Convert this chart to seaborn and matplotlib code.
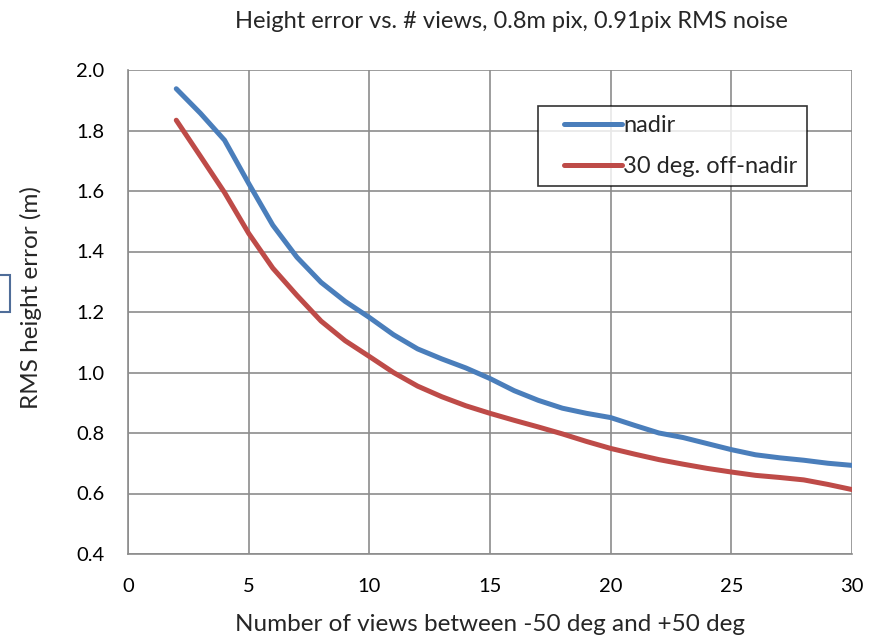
import numpy as np
import pandas as pd
import seaborn as sns
import matplotlib.pyplot as plt
from matplotlib.patches import Rectangle
from matplotlib.legend_handler import HandlerLine2D

# values
views = [2, 3, 4, 5, 6, 7, 8, 9, 10, 11, 12, 13, 14, 15, 16, 17, 18, 19, 20,
         21, 22, 23, 24, 25, 26, 27, 28, 29, 30]
nadir = [1.938, 1.857, 1.768, 1.625, 1.487, 1.381, 1.298, 1.235, 1.182, 1.125,
         1.078, 1.045, 1.015, 0.980, 0.940, 0.908, 0.882, 0.865, 0.851, 0.825,
         0.800, 0.785, 0.765, 0.745, 0.728, 0.718, 0.710, 0.700, 0.693]
off_nadir = [1.834, 1.715, 1.595, 1.460, 1.345, 1.255, 1.170, 1.105, 1.053, 1.000,
             0.955, 0.920, 0.890, 0.865, 0.842, 0.820, 0.797, 0.772, 0.749, 0.730,
             0.712, 0.697, 0.683, 0.671, 0.660, 0.653, 0.645, 0.630, 0.613]
series_names = ["nadir", "30 deg. off-nadir"]
colors = ["#4a7ebb", "#be4b48"]

x_ticks = [0, 5, 10, 15, 20, 25, 30]
y_ticks = [0.4, 0.6, 0.8, 1.0, 1.2, 1.4, 1.6, 1.8, 2.0]

df = pd.DataFrame({
    "views": views + views,
    "err": nadir + off_nadir,
    "series": [series_names[0]] * len(views) + [series_names[1]] * len(views),
})

sns.set_style("white")
plt.rcParams['font.family'] = ['Lato', 'DejaVu Sans']

fig = plt.figure(figsize=(8.74, 6.37), dpi=100)
ax = fig.add_axes([128 / 874, 1 - 554 / 637, (852 - 128) / 874, (554 - 70) / 637])

sns.lineplot(data=df, x="views", y="err", hue="series", palette=colors,
             linewidth=3.6, ax=ax, legend=False, solid_capstyle="round",
             solid_joinstyle="round")

ax.set_xlim(0, 30)
ax.set_ylim(0.4, 2.0)
ax.set_xticks(x_ticks)
ax.set_yticks(y_ticks)
ax.set_yticklabels([f"{v:.1f}" for v in y_ticks])
ax.grid(True, color="#8c8c8c", linewidth=1.2)
ax.set_axisbelow(True)
for side in ["top", "right"]:
    ax.spines[side].set_visible(False)
for side in ["left", "bottom"]:
    ax.spines[side].set_color("#8c8c8c")
    ax.spines[side].set_linewidth(1.2)
ax.tick_params(axis="both", direction="out", length=5, width=1.2, color="#8c8c8c",
               labelsize=14.5, labelcolor="black")
ax.tick_params(axis="x", pad=12)
ax.tick_params(axis="y", pad=12)

ax.set_xlabel("Number of views between -50 deg and +50 deg", fontsize=17.5, labelpad=14)
ax.set_ylabel("RMS height error (m)", fontsize=17.5)
ax.yaxis.set_label_coords(-0.119, 0.53)
fig.text(511 / 874, 1 - 22 / 637, "Height error vs. # views, 0.8m pix, 0.91pix RMS noise",
         fontsize=17, ha="center", va="center")

handles = [plt.Line2D([], [], color=c, linewidth=3.6, solid_capstyle="round") for c in colors]
leg = ax.legend(handles, series_names, loc="upper left", bbox_to_anchor=(0.566, 0.926),
                borderaxespad=0, fontsize=17, frameon=True, fancybox=False,
                handlelength=3.2, handletextpad=0.05, borderpad=0.38, labelspacing=0.85,
                handler_map={plt.Line2D: HandlerLine2D(xpad=0.75)})
leg.get_frame().set_edgecolor("black")
leg.get_frame().set_linewidth(1.2)

# clipped box fragment at the left edge
fig.patches.append(Rectangle((-10 / 874, 1 - 312 / 637), 20 / 874, 37 / 637,
                             transform=fig.transFigure, fill=False,
                             edgecolor="#4f6d99", linewidth=1.5))

fig.savefig("out.png", dpi=100)
